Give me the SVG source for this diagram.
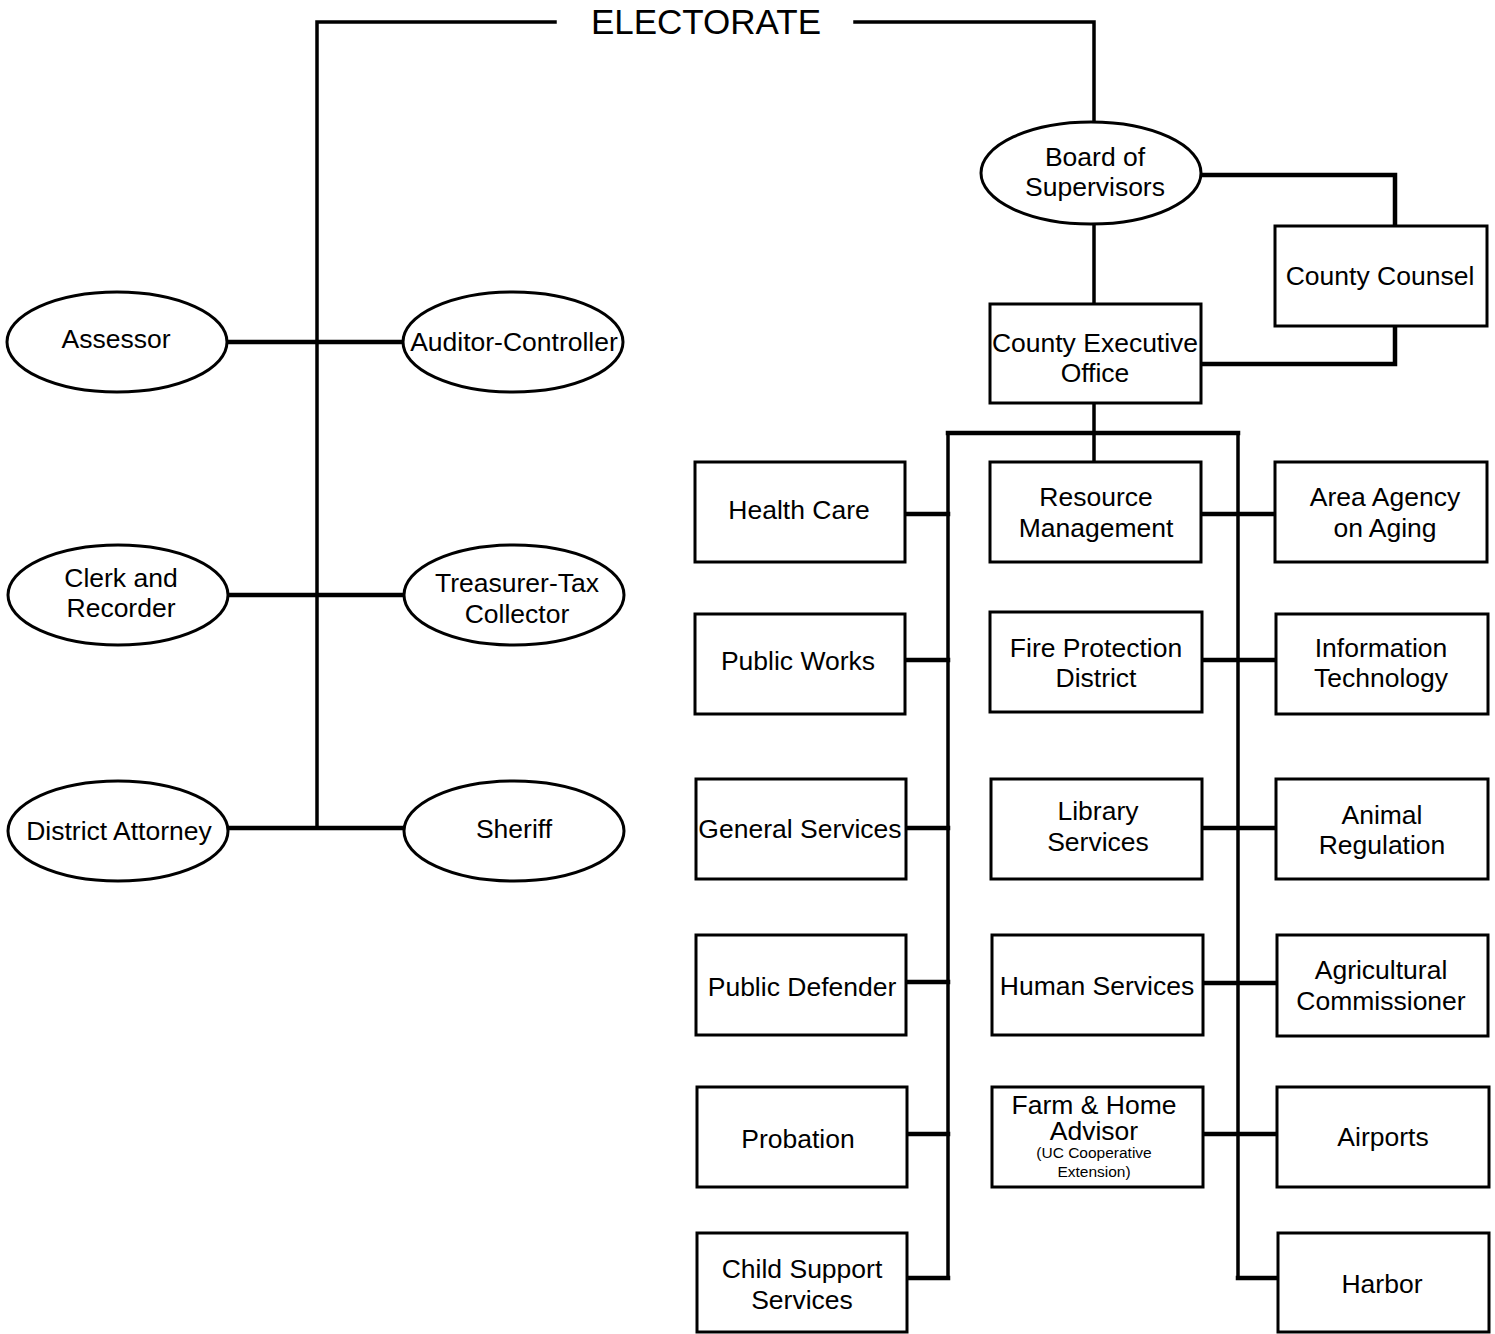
<svg xmlns="http://www.w3.org/2000/svg" width="1495" height="1334" viewBox="0 0 1495 1334">
<style>
.n{fill:#fff;stroke:#000;stroke-width:3}
.t{font-family:"Liberation Sans",Arial,sans-serif;font-size:26.5px;fill:#000;text-anchor:middle}
.s{font-family:"Liberation Sans",Arial,sans-serif;font-size:15.5px;fill:#000;text-anchor:middle}
.c{fill:none;stroke:#000;stroke-width:4.5;stroke-linejoin:miter;stroke-linecap:square}
.b{fill:none;stroke:#000;stroke-width:3.5;stroke-linecap:square}
</style>
<rect width="1495" height="1334" fill="#fff"/>
<g id="connectors">
<path class="b" d="M555 22 H317 V828"/>
<path class="b" d="M855 22 H1094 V122"/>
<path class="c" d="M1201 175 H1395 V226"/>
<path class="b" d="M1094 224 V304"/>
<path class="c" d="M1395 326 V364 H1201"/>
<path class="b" d="M1094 403 V462"/>
<path class="c" d="M948 433 H1238"/>
<path class="b" d="M948 433 V1278"/>
<path class="b" d="M1238 433 V1278"/>
<path class="c" d="M227 342 H403"/>
<path class="c" d="M229 595 H404"/>
<path class="c" d="M229 828 H404"/>
<path class="c" d="M905 514 H948"/>
<path class="c" d="M905 660 H948"/>
<path class="c" d="M905 828 H948"/>
<path class="c" d="M906 982 H948"/>
<path class="c" d="M906 1134 H948"/>
<path class="c" d="M906 1278 H948"/>
<path class="c" d="M1201 514 H1275"/>
<path class="c" d="M1201 660 H1275"/>
<path class="c" d="M1202 828 H1275"/>
<path class="c" d="M1202 983 H1276"/>
<path class="c" d="M1203 1134 H1277"/>
<path class="c" d="M1238 1278 H1277"/>
</g>
<g id="electorate"><text class="t" x="706" y="34" style="font-size:35px">ELECTORATE</text></g>
<g id="board"><ellipse class="n" cx="1091" cy="173" rx="110" ry="51"/><text class="t" x="1095" y="166">Board of</text><text class="t" x="1095" y="196">Supervisors</text></g>
<g id="county-counsel"><rect class="n" x="1275" y="226" width="212" height="100"/><text class="t" x="1380" y="285">County Counsel</text></g>
<g id="ceo"><rect class="n" x="990" y="304" width="211" height="99"/><text class="t" x="1095" y="352">County Executive</text><text class="t" x="1095" y="382">Office</text></g>
<g id="assessor"><ellipse class="n" cx="117" cy="342" rx="110" ry="50"/><text class="t" x="116" y="348">Assessor</text></g>
<g id="auditor"><ellipse class="n" cx="513" cy="342" rx="110" ry="50"/><text class="t" x="514" y="351">Auditor-Controller</text></g>
<g id="clerk"><ellipse class="n" cx="118" cy="595" rx="110" ry="50"/><text class="t" x="121" y="587">Clerk and</text><text class="t" x="121" y="617">Recorder</text></g>
<g id="treasurer"><ellipse class="n" cx="514" cy="595" rx="110" ry="50"/><text class="t" x="517" y="592">Treasurer-Tax</text><text class="t" x="517" y="623">Collector</text></g>
<g id="da"><ellipse class="n" cx="118" cy="831" rx="110" ry="50"/><text class="t" x="119" y="840">District Attorney</text></g>
<g id="sheriff"><ellipse class="n" cx="514" cy="831" rx="110" ry="50"/><text class="t" x="514" y="838">Sheriff</text></g>
<g id="health-care"><rect class="n" x="695" y="462" width="210" height="100"/><text class="t" x="799" y="519">Health Care</text></g>
<g id="public-works"><rect class="n" x="695" y="614" width="210" height="100"/><text class="t" x="798" y="670">Public Works</text></g>
<g id="general-services"><rect class="n" x="696" y="779" width="210" height="100"/><text class="t" x="800" y="838">General Services</text></g>
<g id="public-defender"><rect class="n" x="696" y="935" width="210" height="100"/><text class="t" x="802" y="996">Public Defender</text></g>
<g id="probation"><rect class="n" x="697" y="1087" width="210" height="100"/><text class="t" x="798" y="1148">Probation</text></g>
<g id="child-support"><rect class="n" x="697" y="1233" width="210" height="99"/><text class="t" x="802" y="1278">Child Support</text><text class="t" x="802" y="1309">Services</text></g>
<g id="resource-management"><rect class="n" x="990" y="462" width="211" height="100"/><text class="t" x="1096" y="506">Resource</text><text class="t" x="1096" y="537">Management</text></g>
<g id="fire-protection"><rect class="n" x="990" y="612" width="212" height="100"/><text class="t" x="1096" y="657">Fire Protection</text><text class="t" x="1096" y="687">District</text></g>
<g id="library"><rect class="n" x="991" y="779" width="211" height="100"/><text class="t" x="1098" y="820">Library</text><text class="t" x="1098" y="851">Services</text></g>
<g id="human-services"><rect class="n" x="992" y="935" width="211" height="100"/><text class="t" x="1097" y="995">Human Services</text></g>
<g id="farm-home"><rect class="n" x="992" y="1087" width="211" height="100"/><text class="t" x="1094" y="1114">Farm &amp; Home</text><text class="t" x="1094" y="1140">Advisor</text><text class="s" x="1094" y="1158">(UC Cooperative</text><text class="s" x="1094" y="1177">Extension)</text></g>
<g id="area-agency"><rect class="n" x="1275" y="462" width="212" height="100"/><text class="t" x="1385" y="506">Area Agency</text><text class="t" x="1385" y="537">on Aging</text></g>
<g id="information-technology"><rect class="n" x="1276" y="614" width="212" height="100"/><text class="t" x="1381" y="657">Information</text><text class="t" x="1381" y="687">Technology</text></g>
<g id="animal-regulation"><rect class="n" x="1276" y="779" width="212" height="100"/><text class="t" x="1382" y="824">Animal</text><text class="t" x="1382" y="854">Regulation</text></g>
<g id="agricultural"><rect class="n" x="1277" y="935" width="211" height="101"/><text class="t" x="1381" y="979">Agricultural</text><text class="t" x="1381" y="1010">Commissioner</text></g>
<g id="airports"><rect class="n" x="1277" y="1087" width="212" height="100"/><text class="t" x="1383" y="1146">Airports</text></g>
<g id="harbor"><rect class="n" x="1278" y="1233" width="211" height="99"/><text class="t" x="1382" y="1293">Harbor</text></g>
</svg>
